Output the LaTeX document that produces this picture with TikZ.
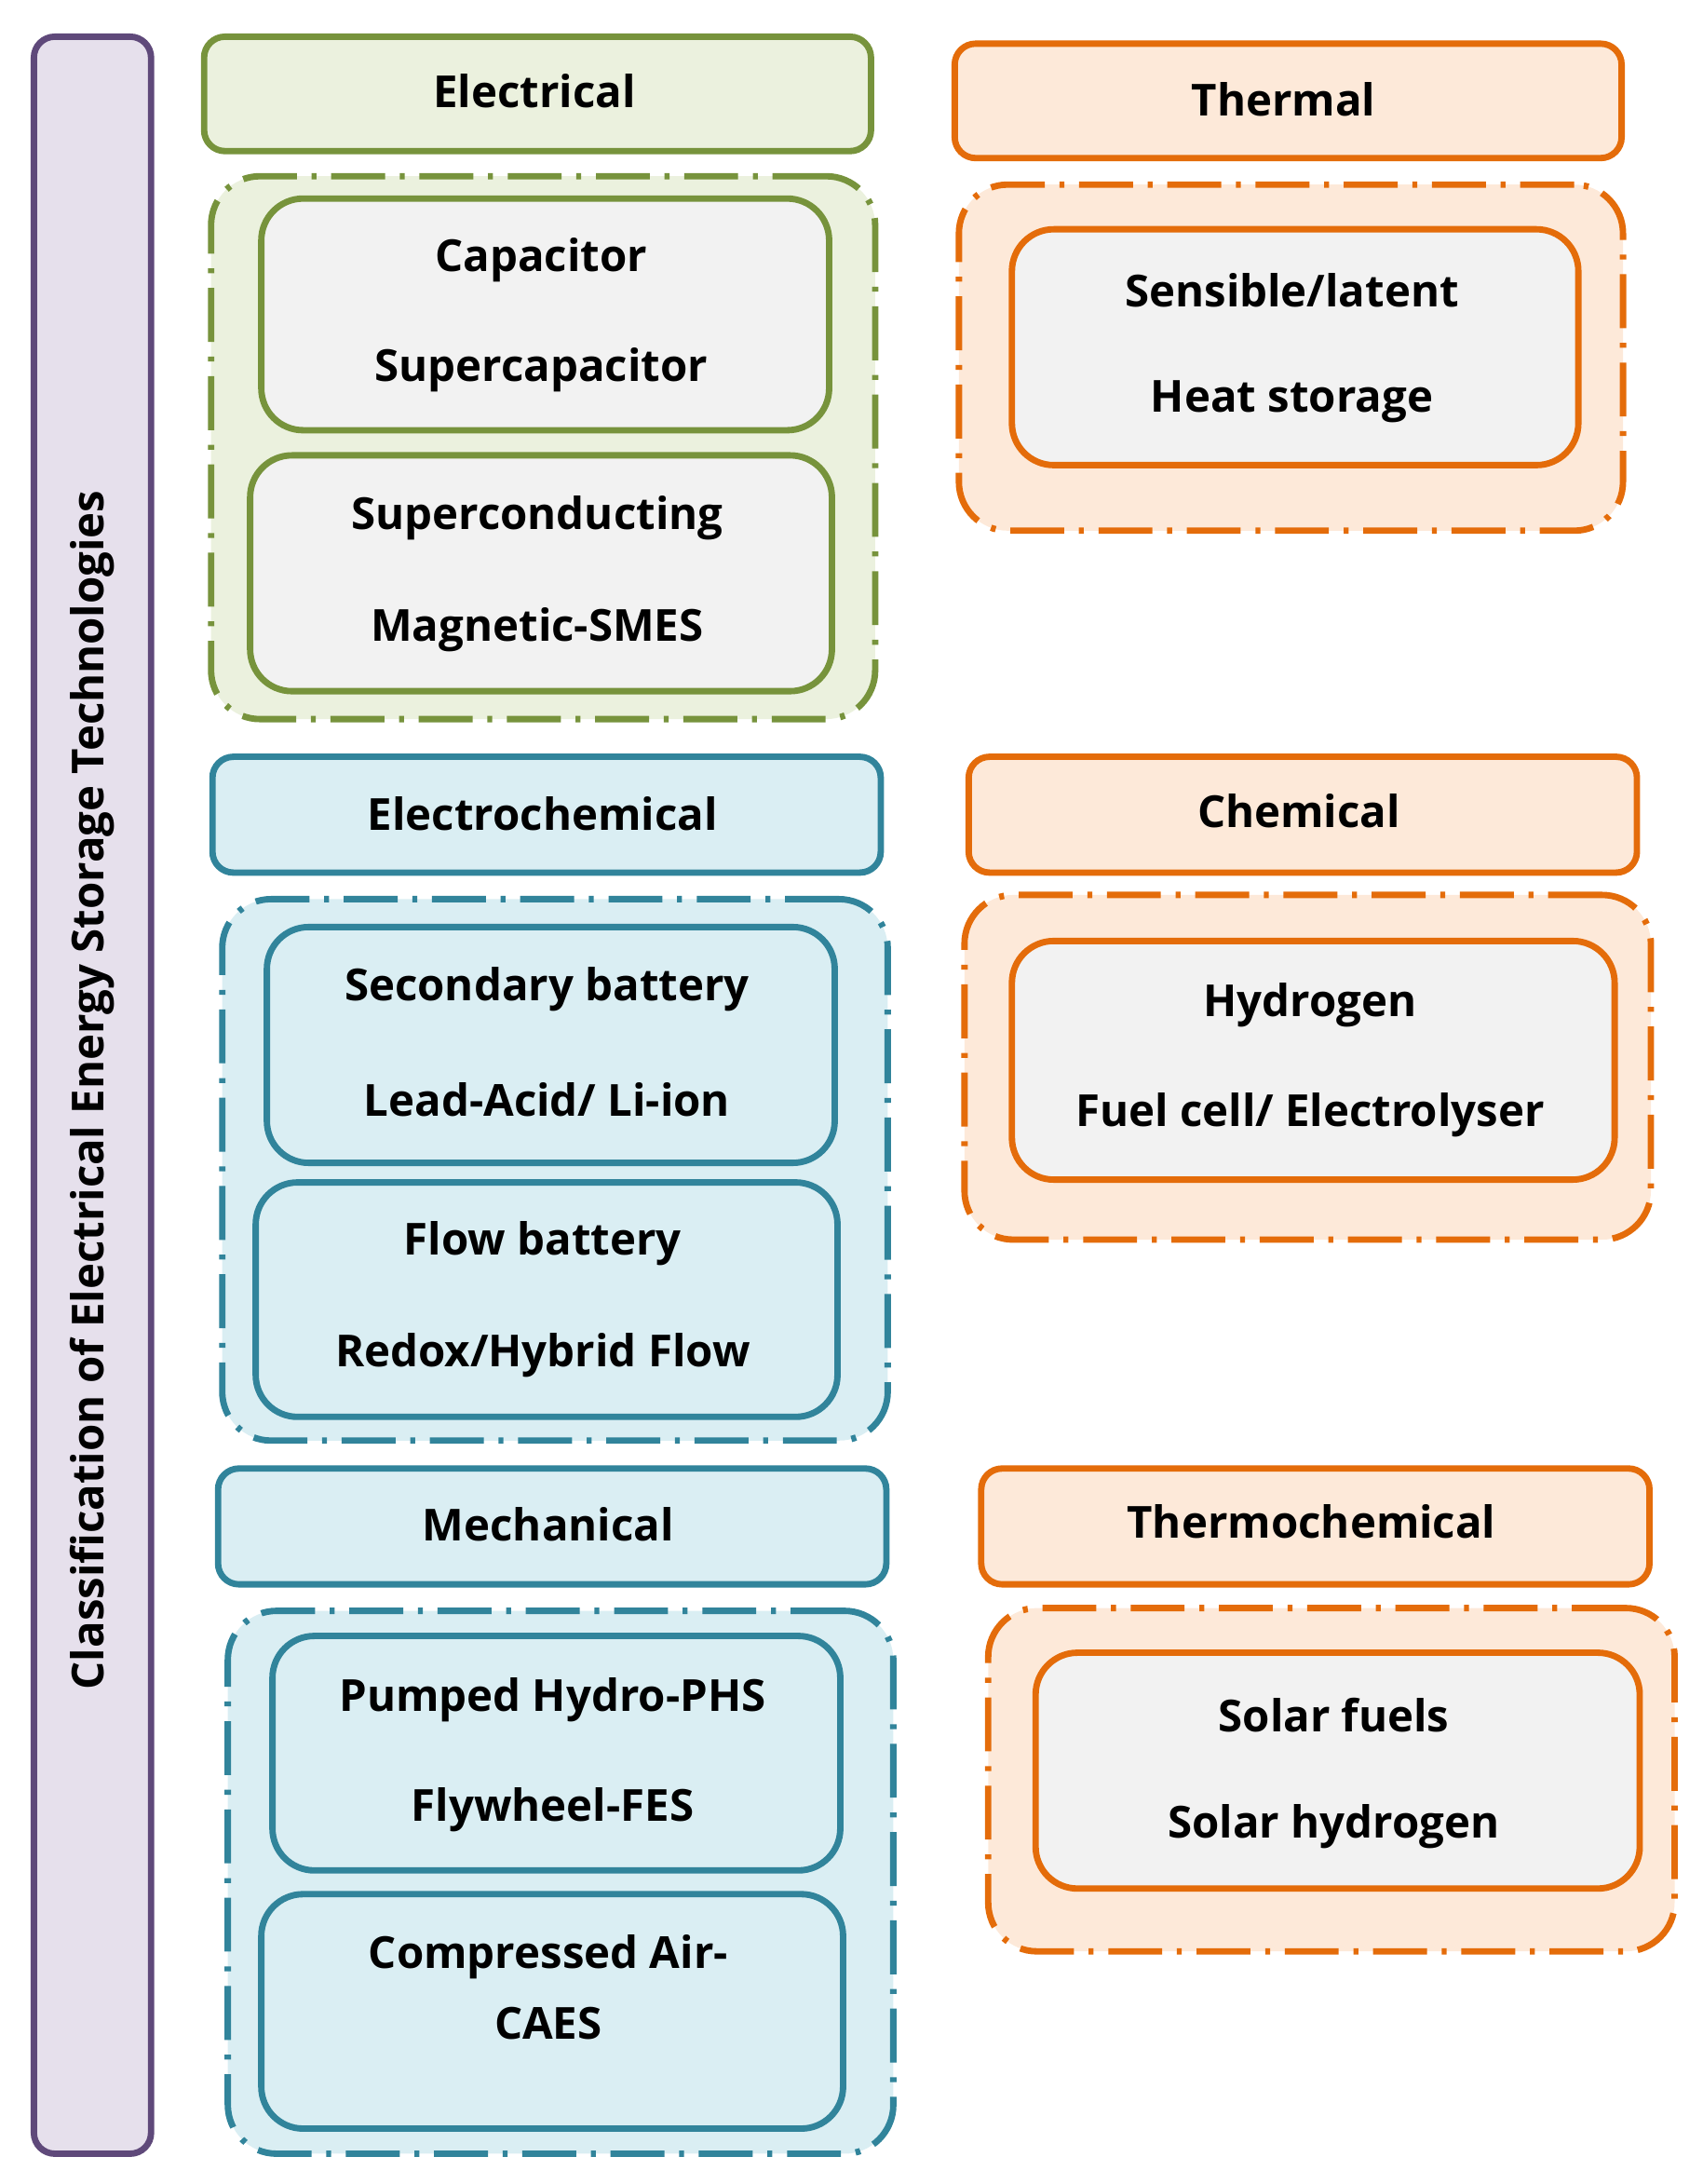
\documentclass[tikz,border=0pt]{standalone}
\usepackage{fontspec}
\setmainfont{Open Sans}
\definecolor{gfill}{HTML}{EBF1DE}\definecolor{gline}{HTML}{77933C}
\definecolor{ofill}{HTML}{FDE9D9}\definecolor{oline}{HTML}{E46C0A}
\definecolor{bfill}{HTML}{DAEEF3}\definecolor{bline}{HTML}{31849B}
\definecolor{pfill}{HTML}{E6E0EC}\definecolor{pline}{HTML}{5F497A}
\definecolor{grey}{HTML}{F2F2F2}
\begin{document}
\begin{tikzpicture}[x=0.02cm,y=-0.02cm,
 txt/.style={font=\fontsize{18}{21}\selectfont\bfseries},
 hdr/.style={line width=2.6pt,rounded corners=0.3cm},
 grp/.style={line width=2.6pt,rounded corners=0.7cm,dash pattern=on 22pt off 6pt on 2pt off 6pt},
 inn/.style={line width=2.6pt,rounded corners=0.6cm}]
\useasboundingbox (0,0) rectangle (1220,1565);
\newcommand{\bx}[6]{\node[#6,draw,inner sep=0,anchor=north west,minimum width={(#4-#2-4)*0.02cm},minimum height={(#5-#3-4)*0.02cm}] (#1) at (#2+2,#3+2) {};}
% left bar
\bx{bar}{20}{22}{108}{1543}{hdr,fill=pfill,draw=pline}
\node[txt,rotate=90] (bart) at (66,781) {Classification of Electrical Energy Storage Technologies};
% Electrical
\bx{eh}{142}{22}{624}{108}{hdr,fill=gfill,draw=gline}
\node[txt] (eht) at (383,65) {Electrical};
\bx{eg}{147}{122}{627}{515}{grp,fill=gfill,draw=gline}
\bx{e1}{183}{138}{594}{308}{inn,fill=grey,draw=gline}
\node[txt] (e1a) at (388,186) {Capacitor};
\node[txt] (e1b) at (388,265) {Supercapacitor};
\bx{e2}{175}{322}{596}{495}{inn,fill=grey,draw=gline}
\node[txt] (e2a) at (385,371) {Superconducting};
\node[txt] (e2b) at (385,451) {Magnetic-SMES};
% Thermal
\bx{th}{680}{27}{1162}{113}{hdr,fill=ofill,draw=oline}
\node[txt] (tht) at (920,71) {Thermal};
\bx{tg}{683}{128}{1163}{380}{grp,fill=ofill,draw=oline}
\bx{t1}{721}{160}{1131}{333}{inn,fill=grey,draw=oline}
\node[txt] (t1a) at (926,208) {Sensible/latent};
\node[txt] (t1b) at (926,288) {Heat storage};
% Electrochemical
\bx{ch}{148}{538}{631}{625}{hdr,fill=bfill,draw=bline}
\node[txt] (cht) at (389,583) {Electrochemical};
\bx{cg}{155}{640}{636}{1032}{grp,fill=bfill,draw=bline}
\bx{c1}{187}{660}{598}{833}{inn,fill=bfill,draw=bline}
\node[txt] (c1a) at (392,709) {Secondary battery};
\node[txt] (c1b) at (392,788) {Lead-Acid/ Li-ion};
\bx{c2}{179}{843}{600}{1015}{inn,fill=bfill,draw=bline}
\node[txt] (c2a) at (389,891) {Flow battery};
\node[txt] (c2b) at (389,971) {Redox/Hybrid Flow};
% Chemical
\bx{hh}{690}{538}{1173}{625}{hdr,fill=ofill,draw=oline}
\node[txt] (hht) at (931,581) {Chemical};
\bx{hg}{687}{637}{1183}{888}{grp,fill=ofill,draw=oline}
\bx{h1}{721}{670}{1157}{845}{inn,fill=grey,draw=oline}
\node[txt] (h1a) at (939,720) {Hydrogen};
\node[txt] (h1b) at (939,799) {Fuel cell/ Electrolyser};
% Mechanical
\bx{mh}{152}{1048}{635}{1135}{hdr,fill=bfill,draw=bline}
\node[txt] (mht) at (393,1092) {Mechanical};
\bx{mg}{159}{1150}{640}{1543}{grp,fill=bfill,draw=bline}
\bx{m1}{191}{1168}{602}{1340}{inn,fill=bfill,draw=bline}
\node[txt] (m1a) at (396,1218) {Pumped Hydro-PHS};
\node[txt] (m1b) at (396,1297) {Flywheel-FES};
\bx{m2}{183}{1353}{604}{1525}{inn,fill=bfill,draw=bline}
\node[txt] (m2a) at (393,1402) {Compressed Air-};
\node[txt] (m2b) at (393,1450) {CAES};
% Thermochemical
\bx{xh}{699}{1048}{1182}{1135}{hdr,fill=ofill,draw=oline}
\node[txt] (xht) at (940,1090) {Thermochemical};
\bx{xg}{704}{1148}{1200}{1398}{grp,fill=ofill,draw=oline}
\bx{x1}{738}{1180}{1175}{1353}{inn,fill=grey,draw=oline}
\node[txt] (x1a) at (956,1229) {Solar fuels};
\node[txt] (x1b) at (956,1309) {Solar hydrogen};
\end{tikzpicture}
\end{document}
